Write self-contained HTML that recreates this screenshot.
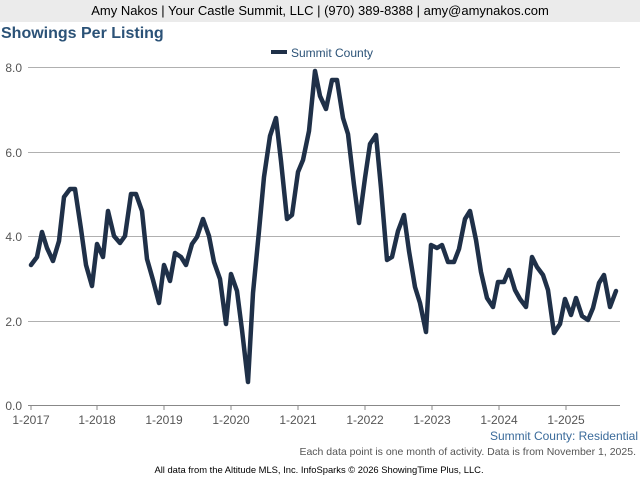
<!DOCTYPE html>
<html><head><style>
body{margin:0;width:640px;height:480px;background:#fff;font-family:"Liberation Sans",sans-serif;position:relative;overflow:hidden}
.hdr{position:absolute;left:0;top:0;width:640px;height:22px;background:#ebebeb;text-align:center;font-size:13px;line-height:22px;color:#000}
.t{position:absolute;left:1px;top:25px;font-size:16px;font-weight:bold;color:#2b5277}
</style></head><body>
<div class="hdr">Amy Nakos | Your Castle Summit, LLC | (970) 389-8388 | amy@amynakos.com</div>
<div class="t">Showings Per Listing</div>
<svg width="640" height="480" style="position:absolute;left:0;top:0" font-family="Liberation Sans, sans-serif">
<rect x="271" y="50" width="16" height="4" fill="#1f3048"/>
<text x="291" y="57" font-size="12" fill="#2b5277">Summit County</text>
<g stroke="#b0b0b0" stroke-width="1">
<line x1="28" y1="67.5" x2="620" y2="67.5"/><line x1="28" y1="152.5" x2="620" y2="152.5"/>
<line x1="28" y1="236.5" x2="620" y2="236.5"/><line x1="28" y1="321.5" x2="620" y2="321.5"/>
</g>
<line x1="28" y1="405.5" x2="620" y2="405.5" stroke="#888"/>
<g stroke="#888">
<line x1="31" y1="405" x2="31" y2="410"/><line x1="97" y1="405" x2="97" y2="410"/><line x1="164" y1="405" x2="164" y2="410"/><line x1="231" y1="405" x2="231" y2="410"/><line x1="298" y1="405" x2="298" y2="410"/><line x1="365" y1="405" x2="365" y2="410"/><line x1="432" y1="405" x2="432" y2="410"/><line x1="499" y1="405" x2="499" y2="410"/><line x1="566" y1="405" x2="566" y2="410"/>
</g>
<g font-size="12" fill="#555" text-anchor="end">
<text x="22" y="72">8.0</text><text x="22" y="157">6.0</text><text x="22" y="241">4.0</text><text x="22" y="326">2.0</text><text x="22" y="410">0.0</text>
</g>
<g font-size="12" fill="#555" text-anchor="middle">
<text x="31" y="424">1-2017</text><text x="97" y="424">1-2018</text><text x="164" y="424">1-2019</text><text x="231" y="424">1-2020</text><text x="298" y="424">1-2021</text><text x="365" y="424">1-2022</text><text x="432" y="424">1-2023</text><text x="499" y="424">1-2024</text><text x="566" y="424">1-2025</text>
</g>
<polyline fill="none" stroke="#1f3048" stroke-width="4.5" stroke-linejoin="round" stroke-linecap="round" points="31,265 37,257 42,232 47,248 53,261 59,241 64,197 70,189 75,189 81,229 86,265 92,286 97,244 103,257 108,211 114,236 120,243 125,236 131,194 136,194 142,211 147,259 153,280 159,303 164,265 170,281 175,253 181,257 186,265 192,244 197,237 203,219 209,236 214,262 220,279 226,324 231,274 237,291 242,330 248,382 253,293 259,231 264,177 270,136 276,118 281,161 287,219 292,215 298,172 303,160 309,131 315,71 320,96 326,109 332,80 337,80 343,118 348,134 354,185 359,223 365,178 370,144 376,135 381,188 387,260 392,257 398,231 404,215 409,251 415,287 420,303 426,332 431,245 437,248 442,245 448,262 454,262 459,249 465,219 470,211 476,240 481,272 487,298 493,307 498,282 504,282 509,270 515,290 520,299 526,307 532,257 537,267 543,275 548,290 554,333 560,324 565,299 571,315 576,298 582,316 588,320 593,308 599,283 604,275 610,307 616,291"/>
<text x="638" y="440" font-size="12" fill="#3a6a9a" text-anchor="end">Summit County: Residential</text>
<text x="636" y="455" font-size="10.5" fill="#555" text-anchor="end">Each data point is one month of activity. Data is from November 1, 2025.</text>
<text x="319" y="473" font-size="9.4" fill="#000" text-anchor="middle">All data from the Altitude MLS, Inc. InfoSparks © 2026 ShowingTime Plus, LLC.</text>
</svg>
</body></html>
